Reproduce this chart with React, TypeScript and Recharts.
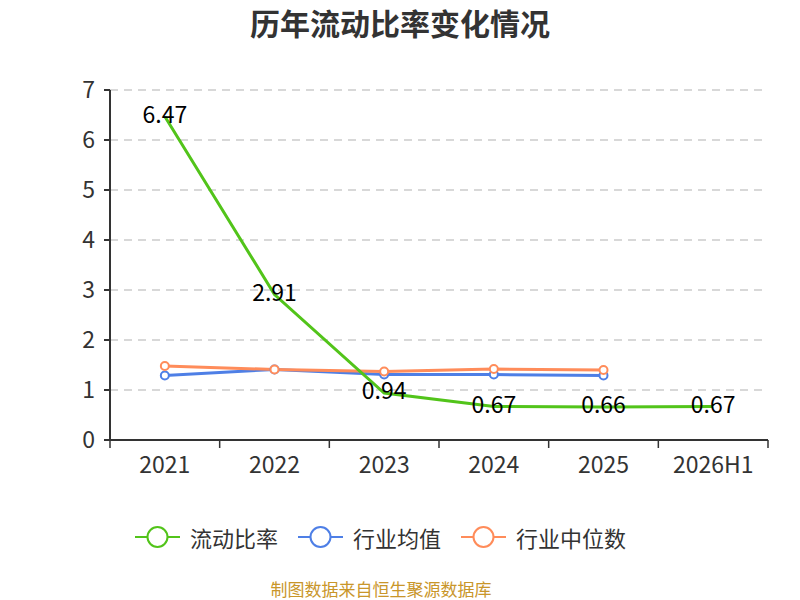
import React from "react";
import { CartesianGrid, Legend, LabelList, Line, LineChart, XAxis, YAxis } from "recharts";

const years = ["2021", "2022", "2023", "2024", "2025", "2026H1"];
const currentRatio = [6.47, 2.91, 0.94, 0.67, 0.66, 0.67];
const industryAvg = [1.29, 1.41, 1.31, 1.31, 1.29, null];
const industryMedian = [1.48, 1.41, 1.37, 1.42, 1.4, null];
const yTicks = [0, 1, 2, 3, 4, 5, 6, 7];

const GREEN = "#52c41a";
const BLUE = "#4e7fe6";
const ORANGE = "#ff8c5a";
const FONT = "'Noto Sans CJK SC', 'Noto Sans', sans-serif";

const data = years.map((name, i) => ({
  name,
  ratio: currentRatio[i],
  avg: industryAvg[i],
  median: industryMedian[i],
}));

const legendItems = [
  { name: "流动比率", color: GREEN },
  { name: "行业均值", color: BLUE },
  { name: "行业中位数", color: ORANGE },
];

// half of one category band, used to put x tick marks on band edges
const HALF_BAND = (800 - 50 - 60 - 32) / years.length / 2;

function XTick(props: any) {
  const { x, y, payload, index } = props;
  return (
    <g>
      <line x1={x - HALF_BAND} y1={y - 8} x2={x - HALF_BAND} y2={y} stroke="#333" strokeWidth={1.5} />
      {index === years.length - 1 && (
        <line x1={x + HALF_BAND} y1={y - 8} x2={x + HALF_BAND} y2={y} stroke="#333" strokeWidth={1.5} />
      )}
      <text x={x} y={y + 25} textAnchor="middle" fill="#333" fontSize={23} fontFamily={FONT}>
        {payload.value}
      </text>
    </g>
  );
}

function ValueLabel(props: any) {
  const { x, y, value } = props;
  return (
    <text x={x} y={y - 4} textAnchor="middle" dominantBaseline="central" fill="#000" fontSize={23} fontFamily={FONT}>
      {value}
    </text>
  );
}

function LegendContent() {
  return (
    <div style={{ height: 40, display: "flex", alignItems: "center", paddingLeft: 85, fontFamily: FONT, fontSize: 22, color: "#333" }}>
      {legendItems.map((it) => (
        <div key={it.name} style={{ display: "flex", alignItems: "center", marginRight: 20 }}>
          <svg width={45} height={24} style={{ marginRight: 10 }}>
            <line x1={0} y1={12} x2={45} y2={12} stroke={it.color} strokeWidth={2} />
            <circle cx={22.5} cy={12} r={10} fill="#fff" stroke={it.color} strokeWidth={2} />
          </svg>
          <span>{it.name}</span>
        </div>
      ))}
    </div>
  );
}

export default function App() {
  return (
    <div style={{ position: "absolute", left: 0, top: 0, width: 800, height: 600, background: "#fff", fontFamily: FONT }}>
      <div style={{ position: "absolute", top: 0, width: 800, textAlign: "center", fontSize: 30, fontWeight: "bold", color: "#333" }}>
        历年流动比率变化情况
      </div>
      <LineChart width={800} height={600} data={data} margin={{ top: 90, right: 32, left: 50, bottom: 43 }}>
        <CartesianGrid vertical={false} stroke="#ccc" strokeDasharray="8 6" strokeWidth={1.5} />
        <XAxis
          dataKey="name"
          scale="band"
          height={77}
          stroke="#333"
          strokeWidth={2}
          tickLine={false}
          tick={<XTick />}
          interval={0}
        />
        <YAxis
          width={60}
          domain={[0, 7]}
          ticks={yTicks}
          stroke="#333"
          strokeWidth={2}
          tickSize={6}
          tickMargin={9}
          tick={{ fill: "#333", fontSize: 23, fontFamily: FONT }}
        />
        <Legend verticalAlign="bottom" content={<LegendContent />} />
        <Line
          dataKey="avg"
          stroke={BLUE}
          strokeWidth={3}
          dot={{ r: 4, fill: "#fff", stroke: BLUE, strokeWidth: 2 }}
          isAnimationActive={false}
        />
        <Line
          dataKey="median"
          stroke={ORANGE}
          strokeWidth={3}
          dot={{ r: 4, fill: "#fff", stroke: ORANGE, strokeWidth: 2 }}
          isAnimationActive={false}
        />
        <Line dataKey="ratio" stroke={GREEN} strokeWidth={3} dot={false} isAnimationActive={false}>
          <LabelList dataKey="ratio" content={<ValueLabel />} />
        </Line>
      </LineChart>
      <div style={{ position: "absolute", top: 577, left: 0, width: 762, textAlign: "center", fontSize: 17, lineHeight: "24px", color: "#c9962a" }}>
        制图数据来自恒生聚源数据库
      </div>
    </div>
  );
}
